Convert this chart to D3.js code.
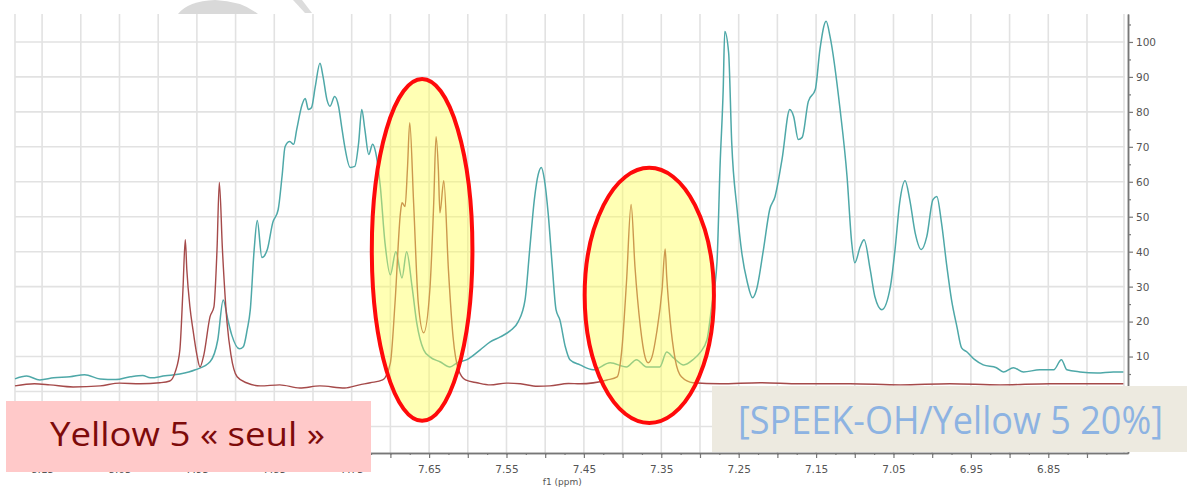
<!DOCTYPE html>
<html>
<head>
<meta charset="utf-8">
<script src="https://cdn.jsdelivr.net/npm/d3@7"></script>
<style>
  body { margin: 0; background: #fff; }
  svg { display: block; }
</style>
</head>
<body>
<svg id="drawing_region"></svg>
<script>
// SPEEK-OH / Yellow 5 20% (teal trace)
const speekPpm = [8.185, 8.170, 8.153, 8.135, 8.114, 8.095, 8.075, 8.055, 8.036, 8.020, 8.010, 7.991, 7.972, 7.952, 7.933, 7.923, 7.916, 7.910, 7.905, 7.895,
  7.890, 7.885, 7.881, 7.876, 7.872, 7.866, 7.859, 7.852, 7.845, 7.840, 7.836, 7.830, 7.825, 7.821, 7.814, 7.810, 7.806, 7.802, 7.797, 7.791,
  7.787, 7.782, 7.778, 7.772, 7.767, 7.763, 7.759, 7.752, 7.746, 7.741, 7.737, 7.733, 7.728, 7.723, 7.719, 7.713, 7.707, 7.700, 7.693, 7.685,
  7.679, 7.672, 7.666, 7.657, 7.649, 7.636, 7.623, 7.614, 7.601, 7.584, 7.571, 7.558, 7.545, 7.535, 7.526, 7.520, 7.514, 7.509, 7.505, 7.501,
  7.496, 7.491, 7.486, 7.481, 7.474, 7.468, 7.455, 7.438, 7.416, 7.395, 7.382, 7.369, 7.352, 7.343, 7.334, 7.321, 7.309, 7.300, 7.291, 7.285,
  7.278, 7.274, 7.270, 7.268, 7.263, 7.259, 7.252, 7.246, 7.239, 7.232, 7.227, 7.218, 7.210, 7.203, 7.194, 7.184, 7.179, 7.173, 7.168, 7.160,
  7.151, 7.145, 7.137, 7.132, 7.119, 7.110, 7.104, 7.100, 7.093, 7.088, 7.080, 7.074, 7.065, 7.054, 7.048, 7.042, 7.035, 7.029, 7.022, 7.014,
  7.007, 6.999, 6.994, 6.988, 6.981, 6.975, 6.968, 6.962, 6.955, 6.945, 6.934, 6.917, 6.908, 6.895, 6.882, 6.861, 6.843, 6.833, 6.826, 6.809,
  6.787, 6.766, 6.753];
const speekIntensity = [3.6, 4.4, 3.3, 3.9, 4.2, 4.8, 3.6, 3.4, 4.2, 4.6, 3.9, 4.5, 5.0, 6.2, 8.5, 14.8, 26.2, 20.5, 16.2, 12.2,
  12.8, 17.7, 23.4, 40.6, 48.9, 38.3, 40.6, 48.3, 52.0, 61.5, 70.1, 71.5, 70.7, 75.0, 82.1, 83.8, 80.7, 81.2, 87.3, 93.9,
  90.1, 83.5, 81.6, 84.4, 81.6, 75.8, 70.1, 64.1, 64.4, 71.2, 80.7, 75.0, 67.8, 70.7, 68.4, 58.6, 42.6, 33.4, 40.0, 32.5,
  40.0, 30.0, 19.7, 11.9, 9.9, 8.5, 7.0, 8.2, 9.1, 11.9, 14.2, 15.6, 17.4, 19.9, 26.2, 40.6, 54.9, 62.1, 64.1, 60.6,
  50.6, 36.3, 23.4, 20.5, 12.8, 9.1, 7.6, 6.2, 8.2, 7.0, 9.1, 7.0, 7.0, 11.3, 9.6, 7.6, 9.1, 11.1, 14.8, 24.2,
  37.1, 64.9, 86.4, 103.0, 97.0, 71.2, 52.0, 39.7, 31.4, 26.8, 29.1, 40.6, 52.0, 55.8, 66.4, 80.7, 78.7, 72.1, 72.7, 83.0,
  86.4, 97.9, 105.9, 101.6, 80.7, 61.5, 42.6, 36.8, 41.4, 43.4, 34.8, 27.1, 23.4, 30.0, 40.6, 54.0, 60.3, 54.9, 45.4, 40.6,
  44.3, 54.9, 55.8, 48.3, 35.7, 26.2, 18.5, 12.5, 11.3, 9.1, 7.6, 6.8, 5.6, 6.8, 5.6, 6.2, 6.2, 9.1, 6.2, 5.6,
  5.3, 5.6, 5.6];

// Yellow 5 alone (red trace)
const yellowPpm = [8.185, 8.160, 8.140, 8.110, 8.075, 8.050, 8.023, 7.998, 7.985, 7.978, 7.972, 7.968, 7.965, 7.963, 7.959, 7.955, 7.950, 7.946, 7.941, 7.933,
  7.928, 7.924, 7.921, 7.917, 7.911, 7.906, 7.898, 7.886, 7.868, 7.843, 7.817, 7.791, 7.759, 7.740, 7.726, 7.710, 7.700, 7.694, 7.687, 7.685,
  7.681, 7.678, 7.675, 7.670, 7.664, 7.657, 7.649, 7.644, 7.641, 7.638, 7.636, 7.631, 7.625, 7.619, 7.612, 7.603, 7.588, 7.571, 7.550, 7.532,
  7.510, 7.494, 7.470, 7.455, 7.420, 7.407, 7.401, 7.395, 7.389, 7.384, 7.377, 7.371, 7.367, 7.362, 7.356, 7.349, 7.345, 7.343, 7.339, 7.332,
  7.324, 7.309, 7.274, 7.222, 7.171, 7.106, 7.041, 6.977, 6.912, 6.848, 6.753];
const yellowIntensity = [1.6, 2.2, 1.9, 1.3, 1.6, 2.4, 2.2, 2.5, 3.0, 5.6, 11.9, 29.1, 43.4, 34.8, 24.2, 17.6, 10.5, 7.0, 10.5, 21.4,
  24.2, 40.6, 59.8, 40.6, 19.6, 10.5, 4.2, 2.5, 1.6, 1.9, 1.0, 1.6, 1.0, 1.9, 2.5, 3.3, 8.2, 25.4, 51.1, 54.0,
  52.9, 63.5, 76.9, 54.0, 25.4, 16.8, 29.1, 54.0, 72.9, 63.5, 51.1, 60.3, 34.8, 15.6, 6.2, 3.3, 2.5, 1.9, 2.4, 2.2,
  1.5, 1.6, 2.3, 2.2, 3.3, 4.2, 11.9, 31.1, 53.5, 35.7, 18.5, 9.9, 8.2, 9.9, 16.8, 29.1, 40.8, 32.9, 21.4, 9.1,
  4.2, 2.5, 2.2, 2.5, 2.2, 2.2, 1.9, 2.2, 1.9, 2.2, 2.2];

const xTickLabels = ['8.15', '8.05', '7.95', '7.85', '7.75', '7.65', '7.55', '7.45', '7.35', '7.25', '7.15', '7.05', '6.95', '6.85'];
const yTickLabels = [10, 20, 30, 40, 50, 60, 70, 80, 90, 100];

// highlighted regions (ppm range, intensity range)
const highlightPpm = [[7.724, 7.594], [7.449, 7.282]];
const highlightIntensity = [[89.4, -8.4], [64.0, -9.0]];

const legendLabels = ['Yellow 5 « seul »', '[SPEEK-OH/Yellow 5 20%]'];

class SpectrumChart {
  constructor(config) {
    this.config = {
      parent: config.parent,
      width: config.width || 1187,
      height: config.height || 487,
      margin: config.margin || { top: 14, right: 59, bottom: 34, left: 15 }
    };
    this.init();
  }

  init() {
    let self = this;
    self.svg = d3.select(self.config.parent)
      .attr('width', self.config.width)
      .attr('height', self.config.height);
    self.inner_width = self.config.width - self.config.margin.left - self.config.margin.right;
    self.inner_height = self.config.height - self.config.margin.top - self.config.margin.bottom;

    // stray grey shapes peeking above the plot
    self.svg.append('path')
      .attr('d', 'M178,14 Q188,1 215,0 Q242,1 258,14 Z')
      .attr('fill', '#d9d9d9');
    self.svg.append('path')
      .attr('d', 'M293,0 L302,0 L312,13 L305,13 Z')
      .attr('fill', '#dcdcdc');

    self.chart = self.svg.append('g')
      .attr('transform', `translate(${self.config.margin.left}, ${self.config.margin.top})`);

    // ppm axis runs right to left
    self.xscale = d3.scaleLinear().domain([8.185, 6.747]).range([0, self.inner_width]);
    self.yscale = d3.scaleLinear().domain([-17.6, 108]).range([self.inner_height, 0]);

    self.line = d3.line()
      .x(d => self.xscale(d[0]))
      .y(d => self.yscale(d[1]))
      .curve(d3.curveMonotoneX);

    self.render();
  }

  render() {
    let self = this;
    const gridColor = '#e2e2e2';

    // grid
    const vgrid = d3.range(0, 28).map(i => 8.15 - i * 0.05);
    self.chart.append('g').selectAll('line').data(vgrid).join('line')
      .attr('x1', d => self.xscale(d)).attr('x2', d => self.xscale(d))
      .attr('y1', 0).attr('y2', self.inner_height)
      .attr('stroke', gridColor).attr('stroke-width', 1.6);
    const hgrid = d3.range(-10, 101, 10);
    self.chart.append('g').selectAll('line').data(hgrid).join('line')
      .attr('x1', 0).attr('x2', self.inner_width - 3)
      .attr('y1', d => self.yscale(d)).attr('y2', d => self.yscale(d))
      .attr('stroke', gridColor).attr('stroke-width', 1.6);
    [0, self.inner_width - 4].forEach(x => {
      self.chart.append('line')
        .attr('x1', x).attr('x2', x).attr('y1', 0).attr('y2', self.inner_height)
        .attr('stroke', gridColor).attr('stroke-width', 1.6);
    });

    // spectra
    const speek = speekPpm.map((p, i) => [p, speekIntensity[i]]);
    const yellow = yellowPpm.map((p, i) => [p, yellowIntensity[i]]);
    self.chart.append('path')
      .attr('d', self.line(speek))
      .attr('fill', 'none').attr('stroke', '#4ea8a8').attr('stroke-width', 1.5);
    self.chart.append('path')
      .attr('d', self.line(yellow))
      .attr('fill', 'none').attr('stroke', '#a54a4a').attr('stroke-width', 1.4);

    // highlight ellipses
    const hl = self.chart.append('g');
    highlightPpm.forEach((r, i) => {
      const cx = (self.xscale(r[0]) + self.xscale(r[1])) / 2;
      const rx = Math.abs(self.xscale(r[1]) - self.xscale(r[0])) / 2;
      const cy = (self.yscale(highlightIntensity[i][0]) + self.yscale(highlightIntensity[i][1])) / 2;
      const ry = Math.abs(self.yscale(highlightIntensity[i][1]) - self.yscale(highlightIntensity[i][0])) / 2;
      hl.append('ellipse')
        .attr('cx', cx).attr('cy', cy).attr('rx', rx).attr('ry', ry)
        .attr('fill', 'rgb(255,255,80)').attr('fill-opacity', 0.43)
        .attr('stroke', '#ff0a0a').attr('stroke-width', 4);
    });

    // right intensity axis
    const yaxis = d3.axisRight(self.yscale)
      .tickValues(yTickLabels).tickSize(5).tickPadding(3).tickSizeOuter(0);
    const yminor = d3.axisRight(self.yscale)
      .tickValues(d3.range(5, 106, 10)).tickSize(3).tickFormat('').tickSizeOuter(0);
    self.chart.append('g').attr('transform', `translate(${self.inner_width}, 0)`).call(yaxis);
    self.chart.append('g').attr('transform', `translate(${self.inner_width}, 0)`).call(yminor);

    // bottom ppm axis
    const xaxis = d3.axisBottom(self.xscale)
      .tickValues(d3.range(0, 28).map(i => 8.15 - i * 0.05))
      .tickSize(5).tickPadding(8).tickSizeOuter(0)
      .tickFormat(d => {
        const s = d.toFixed(2);
        return xTickLabels.includes(s) ? s : '';
      });
    const xminor = d3.axisBottom(self.xscale)
      .tickValues(d3.range(0, 57).map(i => 8.175 - i * 0.025))
      .tickSize(2).tickFormat('').tickSizeOuter(0);
    self.chart.append('g').attr('transform', `translate(0, ${self.inner_height})`).call(xaxis);
    self.chart.append('g').attr('transform', `translate(0, ${self.inner_height})`).call(xminor);

    self.chart.selectAll('.domain').attr('stroke', '#777').attr('stroke-width', 1.5);
    self.chart.selectAll('.tick line').attr('stroke', '#777').attr('stroke-width', 1.2);
    self.chart.selectAll('.tick text')
      .attr('fill', '#555').attr('font-family', 'DejaVu Sans').attr('font-size', 10.5);

    self.svg.append('text')
      .attr('x', self.config.margin.left + self.xscale(7.478))
      .attr('y', 484.5)
      .attr('text-anchor', 'middle')
      .attr('fill', '#555').attr('font-family', 'DejaVu Sans').attr('font-size', 9)
      .text('f1 (ppm)');

    // label boxes
    self.svg.append('rect')
      .attr('x', 6).attr('y', 401).attr('width', 365).attr('height', 71)
      .attr('fill', '#ffc9c9');
    self.svg.append('text')
      .attr('x', 50).attr('y', 446)
      .attr('font-family', 'Open Sans').attr('font-size', 32)
      .attr('fill', '#7d0a0a')
      .attr('textLength', 275).attr('lengthAdjust', 'spacingAndGlyphs')
      .text(legendLabels[0]);

    self.svg.append('rect')
      .attr('x', 712).attr('y', 386).attr('width', 475).attr('height', 66)
      .attr('fill', '#edeae0');
    self.svg.append('text')
      .attr('x', 738).attr('y', 434)
      .attr('font-family', 'Open Sans').attr('font-size', 38)
      .attr('fill', '#8db3e2')
      .attr('textLength', 425).attr('lengthAdjust', 'spacingAndGlyphs')
      .text(legendLabels[1]);
  }
}

const chart = new SpectrumChart({
  parent: '#drawing_region',
  width: 1187,
  height: 487,
  margin: { top: 14, right: 59, bottom: 34, left: 15 }
});
</script>
</body>
</html>
